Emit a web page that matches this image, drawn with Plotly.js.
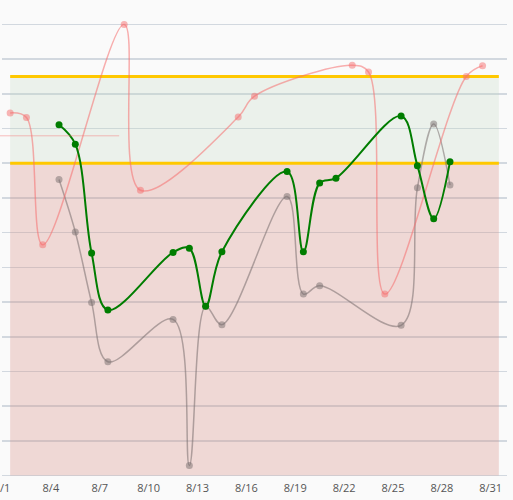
<!DOCTYPE html>
<html>
<head>
<meta charset="utf-8">
<script src="https://cdn.plot.ly/plotly-3.0.1.min.js"></script>
<style>html,body{margin:0;padding:0;background:#fafafa;}#chart{width:513px;height:500px;}</style>
</head>
<body>
<div id="chart"></div>
<script>
// Pink series
const pinkDates = ['2023-08-01 12:00','2023-08-02 12:00','2023-08-03 12:00','2023-08-08 12:00','2023-08-09 12:00','2023-08-15 12:00','2023-08-16 12:00','2023-08-22 12:00','2023-08-23 12:00','2023-08-24 12:00','2023-08-29 12:00','2023-08-30 12:00'];
const pinkValues = [10.45, 10.32, 6.65, 13.0, 8.22, 10.33, 10.93, 11.82, 11.63, 5.23, 11.50, 11.81];
// Green series
const greenDates = ['2023-08-04 12:00','2023-08-05 12:00','2023-08-06 12:00','2023-08-07 12:00','2023-08-11 12:00','2023-08-12 12:00','2023-08-13 12:00','2023-08-14 12:00','2023-08-18 12:00','2023-08-19 12:00','2023-08-20 12:00','2023-08-21 12:00','2023-08-25 12:00','2023-08-26 12:00','2023-08-27 12:00','2023-08-28 12:00'];
const greenValues = [10.11, 9.55, 6.41, 4.77, 6.43, 6.55, 4.88, 6.45, 8.76, 6.45, 8.43, 8.57, 10.36, 8.93, 7.40, 9.04];
// Gray series
const grayDates = ['2023-08-04 12:00','2023-08-05 12:00','2023-08-06 12:00','2023-08-07 12:00','2023-08-11 12:00','2023-08-12 12:00','2023-08-13 12:00','2023-08-14 12:00','2023-08-18 12:00','2023-08-19 12:00','2023-08-20 12:00','2023-08-25 12:00','2023-08-26 12:00','2023-08-27 12:00','2023-08-28 12:00'];
const grayValues = [8.53, 7.02, 4.99, 3.28, 4.50, 0.29, 4.88, 4.35, 8.04, 5.23, 5.47, 4.33, 8.29, 10.13, 8.37];
// Bands
const bandStart = '2023-08-01 12:00';
const bandEnd = '2023-08-31 12:00';
const lowLimit = 9;
const highLimit = 11.5;
const refLevel = 9.79;

const traces = [
  {x: grayDates, y: grayValues, type: 'scatter', mode: 'lines+markers',
   line: {shape: 'spline', smoothing: 1, color: 'rgba(120,110,110,0.55)', width: 1.5},
   marker: {size: 7, color: 'rgba(120,110,110,0.5)'}, hoverinfo: 'skip', cliponaxis: false},
  {x: pinkDates, y: pinkValues, type: 'scatter', mode: 'lines+markers',
   line: {shape: 'spline', smoothing: 1, color: 'rgba(245,110,110,0.55)', width: 1.5},
   marker: {size: 7, color: 'rgba(245,110,110,0.5)'}, hoverinfo: 'skip', cliponaxis: false},
  {x: greenDates, y: greenValues, type: 'scatter', mode: 'lines+markers',
   line: {shape: 'spline', smoothing: 1, color: '#007d00', width: 2},
   marker: {size: 7, color: '#007d00'}, hoverinfo: 'skip', cliponaxis: false}
];

const layout = {
  width: 513, height: 500,
  margin: {l: 2, r: 6, t: 23, b: 23},
  paper_bgcolor: '#fafafa', plot_bgcolor: '#fafafa',
  showlegend: false,
  font: {family: 'Open Sans, Noto Sans, sans-serif', size: 11, color: '#555'},
  xaxis: {type: 'date', range: ['2023-08-01', '2023-09-01'], tick0: '2023-08-01', dtick: 3*86400000,
          tickformat: '%-m/%-d', showgrid: false, zeroline: false, showline: false, ticks: '',
          ticklabelstandoff: 3, ticklabeloverflow: 'allow', tickfont: {size: 11, color: '#555'}},
  yaxis: {range: [-0.04, 13.04], dtick: 1, tick0: 0, showticklabels: false, showgrid: true,
          gridcolor: '#d2d8df', gridwidth: 1.5, zeroline: false, showline: false, ticks: ''},
  shapes: [
    {type: 'rect', xref: 'x', yref: 'y', x0: bandStart, x1: bandEnd, y0: lowLimit, y1: highLimit,
     fillcolor: 'rgba(190,215,190,0.25)', line: {width: 0}, layer: 'between'},
    {type: 'rect', xref: 'x', yref: 'y', x0: bandStart, x1: bandEnd, y0: 0, y1: lowLimit,
     fillcolor: 'rgba(215,140,130,0.3)', line: {width: 0}, layer: 'between'},
    {type: 'line', xref: 'x', yref: 'y', x0: bandStart, x1: bandEnd, y0: highLimit, y1: highLimit,
     line: {color: '#ffc800', width: 3}, layer: 'between'},
    {type: 'line', xref: 'x', yref: 'y', x0: bandStart, x1: bandEnd, y0: lowLimit, y1: lowLimit,
     line: {color: '#ffc800', width: 3}, layer: 'between'},
    {type: 'line', xref: 'paper', yref: 'y', x0: -0.005, x1: 0.232, y0: refLevel, y1: refLevel,
     line: {color: 'rgba(245,110,110,0.45)', width: 1}, layer: 'above'}
  ]
};

Plotly.newPlot('chart', traces, layout, {displayModeBar: false, staticPlot: true});
</script>
</body>
</html>
